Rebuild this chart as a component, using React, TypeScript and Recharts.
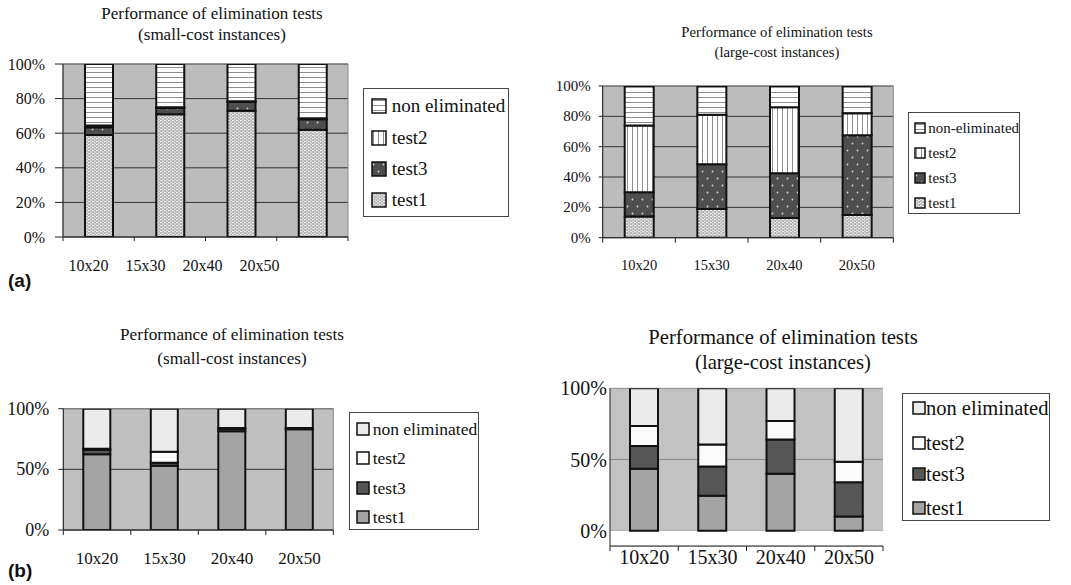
import React from 'react';
import { BarChart, Bar, XAxis, YAxis, CartesianGrid, ReferenceArea } from 'recharts';

const SERIF = '"Liberation Serif", "Times New Roman", Times, serif';

const categories = ['10x20', '15x30', '20x40', '20x50'];

// (a) small-cost instances (% of tests)
const aSmallTest1 = [59, 71, 73, 62];
const aSmallTest3 = [4.5, 3.5, 5, 6];
const aSmallTest2 = [1, 0.5, 0.5, 0.5];
const aSmallNonElim = [35.5, 25, 21.5, 31.5];

// (a) large-cost instances
const aLargeTest1 = [14, 19, 13, 15];
const aLargeTest3 = [16, 29.5, 29.5, 52.5];
const aLargeTest2 = [44, 32.5, 43.5, 14.5];
const aLargeNonElim = [26, 19, 14, 18];

// (b) small-cost instances
const bSmallTest1 = [62.5, 53, 81.5, 83];
const bSmallTest3 = [3.5, 2.5, 2, 0.5];
const bSmallTest2 = [1, 9, 0.5, 0.5];
const bSmallNonElim = [33, 35.5, 16, 16];

// (b) large-cost instances
const bLargeTest1 = [43.5, 24.5, 40, 10];
const bLargeTest3 = [16, 20.5, 24, 24];
const bLargeTest2 = [14, 15.5, 13, 14.5];
const bLargeNonElim = [26.5, 39.5, 23, 51.5];

const ticksFine = [0, 20, 40, 60, 80, 100];
const ticksCoarse = [0, 50, 100];

const toRows = (t1: number[], t3: number[], t2: number[], ne: number[]) =>
  categories.map((name, i) => ({ name, test1: t1[i], test3: t3[i], test2: t2[i], nonElim: ne[i] }));

type Fills = { test1: string; test3: string; test2: string; nonElim: string };
const patternFills: Fills = { test1: 'url(#weave)', test3: 'url(#dots)', test2: 'url(#vert)', nonElim: 'url(#horiz)' };
const solidFills: Fills = { test1: '#a4a4a4', test3: '#565656', test2: '#fbfbfb', nonElim: '#ebebeb' };

// x ticks: marks sit on category boundaries, labels under (optionally shifted) centres
const makeTick = (o: { half: number; len: number; dy: number; fontSize: number; shift?: (x: number) => number }) =>
  (props: any) => {
    const { x, y, payload, index } = props;
    const tx = o.shift ? o.shift(x) : x;
    return (
      <g>
        <line x1={x - o.half} x2={x - o.half} y1={y} y2={y + o.len} stroke="#222" />
        {index === categories.length - 1 && (
          <line x1={x + o.half} x2={x + o.half} y1={y} y2={y + o.len} stroke="#222" />
        )}
        <text x={tx} y={y + o.dy} textAnchor="middle" dominantBaseline="central"
          style={{ fontFamily: SERIF, fontSize: o.fontSize }} fill="#111">{payload.value}</text>
      </g>
    );
  };

const makeYTick = (fontSize: number) => (props: any) => {
  const { x, y, payload } = props;
  return (
    <text x={x} y={y} textAnchor="end" dominantBaseline="central"
      style={{ fontFamily: SERIF, fontSize }} fill="#111">{`${payload.value}%`}</text>
  );
};

interface PanelProps {
  rows: any[];
  fills: Fills;
  left: number;
  top: number;
  width: number;
  height: number;
  margin: { top: number; right: number; left: number; bottom: number };
  yWidth: number;
  xHeight: number;
  domain: [number, number];
  ticks: number[];
  yFont: number;
  yTickSize: number;
  yTickMargin: number;
  xTick: (p: any) => React.ReactElement;
  barSize: number;
  bg: string;
  gridStroke: string;
  border?: string;
  whiteBelowZero?: boolean;
}

function Panel(p: PanelProps) {
  const keys: (keyof Fills)[] = ['test1', 'test3', 'test2', 'nonElim'];
  return (
    <div style={{ position: 'absolute', left: p.left, top: p.top }}>
      <BarChart width={p.width} height={p.height} data={p.rows} margin={p.margin}>
        <CartesianGrid fill={p.bg} fillOpacity={1} stroke={p.gridStroke} vertical={false} />
        {p.whiteBelowZero && (
          <ReferenceArea y1={p.domain[0]} y2={0} fill="#ffffff" fillOpacity={1} stroke="none" ifOverflow="hidden" />
        )}
        {p.border && (
          <ReferenceArea y1={p.domain[0]} y2={p.domain[1]} fill="none" stroke={p.border} />
        )}
        <XAxis dataKey="name" height={p.xHeight} tickSize={0} tickMargin={0} tickLine={false}
          axisLine={{ stroke: '#222' }} tick={p.xTick} interval={0} />
        <YAxis width={p.yWidth} domain={p.domain} ticks={p.ticks} allowDataOverflow
          tickSize={p.yTickSize} tickMargin={p.yTickMargin}
          tickLine={p.yTickSize > 0 ? { stroke: '#222' } : false}
          axisLine={{ stroke: '#222' }} interval={0}
          tick={makeYTick(p.yFont)} />
        {keys.map((k) => (
          <Bar key={k} dataKey={k} stackId="s" fill={p.fills[k]} stroke="#111" strokeWidth={2}
            barSize={p.barSize} isAnimationActive={false} />
        ))}
      </BarChart>
    </div>
  );
}

function Title({ cx, y, gap, fontSize, lines }: { cx: number; y: number; gap: number; fontSize: number; lines: string[] }) {
  return (
    <div style={{
      position: 'absolute', left: cx - 200, width: 400, top: y - gap / 2, textAlign: 'center',
      fontFamily: SERIF, fontSize, lineHeight: `${gap}px`, color: '#111', whiteSpace: 'nowrap',
    }}>
      {lines.map((l) => <div key={l}>{l}</div>)}
    </div>
  );
}

interface LegendProps {
  left: number; top: number; width: number; height: number;
  centers: number[]; swatch: number; swatchX: number; textX: number; fontSize: number;
  fills: Fills; nonLabel: string;
}

function LegendBox(p: LegendProps) {
  const items = [
    { label: p.nonLabel, fill: p.fills.nonElim },
    { label: 'test2', fill: p.fills.test2 },
    { label: 'test3', fill: p.fills.test3 },
    { label: 'test1', fill: p.fills.test1 },
  ];
  return (
    <div style={{
      position: 'absolute', left: p.left, top: p.top, width: p.width, height: p.height,
      border: '1px solid #444', boxSizing: 'border-box', background: '#fff', fontFamily: SERIF,
    }}>
      {items.map((it, i) => (
        <div key={it.label} style={{ position: 'absolute', left: 0, top: p.centers[i] - p.top - 13, height: 26, width: '100%' }}>
          <svg width={p.swatch + 2} height={p.swatch + 2}
            style={{ position: 'absolute', left: p.swatchX - p.left - 1, top: 13 - p.swatch / 2 - 1 }}>
            <rect x={1} y={1} width={p.swatch} height={p.swatch} fill={it.fill} stroke="#111" strokeWidth={1.5} />
          </svg>
          <span style={{
            position: 'absolute', left: p.textX - p.left, fontFamily: SERIF, fontSize: p.fontSize,
            color: '#111', whiteSpace: 'nowrap', lineHeight: '26px', top: 0,
          }}>{it.label}</span>
        </div>
      ))}
    </div>
  );
}

const figLabel: React.CSSProperties = {
  position: 'absolute', fontFamily: '"Liberation Sans", Arial, sans-serif', fontWeight: 700,
  fontSize: 19, color: '#111', lineHeight: '20px',
};

export default function App() {
  return (
    <div style={{ position: 'absolute', left: 0, top: 0, width: 1071, height: 585, background: '#fff', overflow: 'hidden', fontFamily: SERIF }}>
      <svg width={0} height={0} style={{ position: 'absolute' }}>
        <defs>
          <pattern id="horiz" patternUnits="userSpaceOnUse" width={6} height={5}>
            <rect width={6} height={5} fill="#ffffff" />
            <rect y={2} width={6} height={1} fill="#8e8e8e" />
          </pattern>
          <pattern id="vert" patternUnits="userSpaceOnUse" width={5} height={6}>
            <rect width={5} height={6} fill="#ffffff" />
            <rect x={2} width={1} height={6} fill="#8e8e8e" />
          </pattern>
          <pattern id="dots" patternUnits="userSpaceOnUse" width={10} height={14}>
            <rect width={10} height={14} fill="#4e4e4e" />
            <circle cx={2.5} cy={3.5} r={0.9} fill="#d4d4d4" />
            <circle cx={7.5} cy={10.5} r={0.9} fill="#d4d4d4" />
          </pattern>
          <pattern id="weave" patternUnits="userSpaceOnUse" width={4} height={3}>
            <rect width={4} height={3} fill="#a8a8a8" />
            <rect x={0} y={0} width={2.4} height={1.2} fill="#eeeeee" />
            <rect x={2} y={1.5} width={2} height={1.2} fill="#eeeeee" />
            <rect x={0} y={1.5} width={0.4} height={1.2} fill="#eeeeee" />
          </pattern>
        </defs>
      </svg>

      {/* (a) small-cost */}
      <Title cx={212} y={13.5} gap={21.5} fontSize={17} lines={['Performance of elimination tests', '(small-cost instances)']} />
      <Panel rows={toRows(aSmallTest1, aSmallTest3, aSmallTest2, aSmallNonElim)} fills={patternFills}
        left={0} top={0} width={360} height={280} margin={{ top: 64, right: 12, left: 0, bottom: 0 }}
        yWidth={63} xHeight={43} domain={[0, 100]} ticks={ticksFine} yFont={16} yTickSize={8} yTickMargin={10}
        xTick={makeTick({ half: 285 / 8, len: 4, dy: 28, fontSize: 16, shift: (x) => 63 + (x - 63) * 0.8 - 3 })}
        barSize={28} bg="#bcbcbc" gridStroke="#333" border="#8a8a8a" />
      <LegendBox left={363} top={88} width={146} height={129} centers={[105, 137, 168, 199]}
        swatch={14} swatchX={371} textX={390.7} fontSize={19} fills={patternFills} nonLabel="non eliminated" />

      {/* (a) large-cost */}
      <Title cx={777} y={31.7} gap={20} fontSize={14.7} lines={['Performance of elimination tests', '(large-cost instances)']} />
      <Panel rows={toRows(aLargeTest1, aLargeTest3, aLargeTest2, aLargeNonElim)} fills={patternFills}
        left={530} top={0} width={380} height={280} margin={{ top: 86, right: 16.7, left: 0, bottom: 0 }}
        yWidth={72.7} xHeight={42.3} domain={[0, 100]} ticks={ticksFine} yFont={15} yTickSize={4} yTickMargin={8}
        xTick={makeTick({ half: 290.6 / 8, len: 5, dy: 27.3, fontSize: 14.5 })}
        barSize={29} bg="#bcbcbc" gridStroke="#333" border="#8a8a8a" />
      <LegendBox left={907.7} top={112} width={112.3} height={102} centers={[126.7, 151.7, 176.7, 202.3]}
        swatch={10} swatchX={914} textX={927.3} fontSize={15} fills={patternFills} nonLabel="non-eliminated" />

      <div style={{ ...figLabel, left: 8, top: 271 }}>(a)</div>

      {/* (b) small-cost */}
      <Title cx={232} y={335} gap={24.3} fontSize={17.2} lines={['Performance of elimination tests', '(small-cost instances)']} />
      <Panel rows={toRows(bSmallTest1, bSmallTest3, bSmallTest2, bSmallNonElim)} fills={solidFills}
        left={0} top={300} width={345} height={280} margin={{ top: 108.7, right: 11.7, left: 0, bottom: 0 }}
        yWidth={63.3} xHeight={50} domain={[0, 100]} ticks={ticksCoarse} yFont={18} yTickSize={5} yTickMargin={9}
        xTick={makeTick({ half: 270 / 8, len: 5, dy: 28.3, fontSize: 17 })}
        barSize={27} bg="#c0c0c0" gridStroke="#333" border="#8a8a8a" />
      <LegendBox left={349} top={411.7} width={130} height={118.3} centers={[428, 457, 486.7, 516]}
        swatch={12} swatchX={356} textX={371.7} fontSize={17.5} fills={solidFills} nonLabel="non eliminated" />

      {/* (b) large-cost */}
      <Title cx={783} y={337} gap={25} fontSize={20.7} lines={['Performance of elimination tests', '(large-cost instances)']} />
      <Panel rows={toRows(bLargeTest1, bLargeTest3, bLargeTest2, bLargeNonElim)} fills={solidFills}
        left={530} top={300} width={380} height={280} margin={{ top: 88.3, right: 27, left: 0, bottom: 0 }}
        yWidth={80} xHeight={34} domain={[-10.74, 100]} ticks={ticksCoarse} yFont={20} yTickSize={0} yTickMargin={3}
        xTick={makeTick({ half: 273 / 8, len: 5, dy: 10.7, fontSize: 20 })}
        barSize={28} bg="#c2c2c2" gridStroke="#8a8a8a" whiteBelowZero />
      <LegendBox left={902.3} top={393.3} width={147.7} height={127.4} centers={[406.7, 441.7, 473.3, 507.3]}
        swatch={12} swatchX={912.3} textX={925} fontSize={20.5} fills={solidFills} nonLabel="non eliminated" />

      <div style={{ ...figLabel, left: 8, top: 561 }}>(b)</div>
    </div>
  );
}
